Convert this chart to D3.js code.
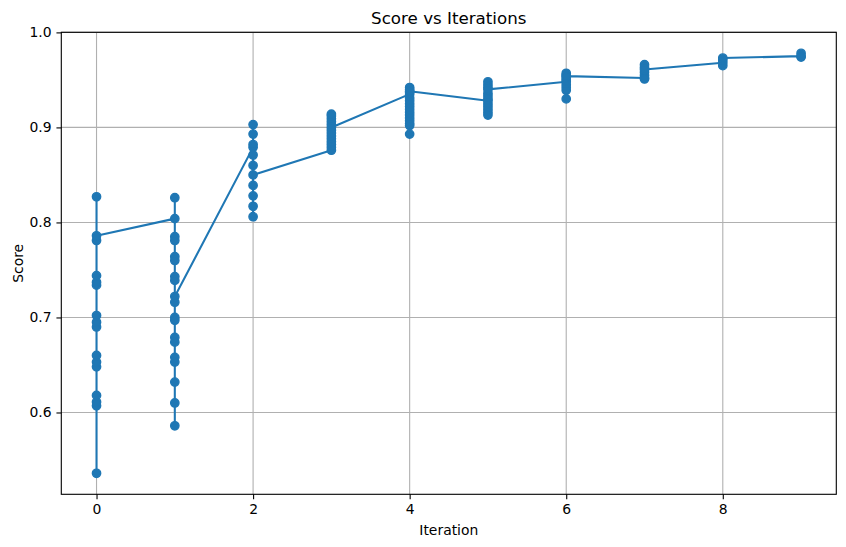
<!DOCTYPE html>
<html>
<head>
<meta charset="utf-8">
<script src="https://cdn.jsdelivr.net/npm/d3@7"></script>
<style>
	body { margin: 0; background: #fff; }
	text { font-family: "DejaVu Sans", sans-serif; fill: #000; }
</style>
</head>
<body>
<svg id="chart" width="846" height="547"></svg>
<script>
// scores in the order they were logged (line follows this order)
var iter0 = [0.827, 0.536, 0.607, 0.611, 0.618, 0.648, 0.653, 0.660, 0.690, 0.695, 0.702, 0.734, 0.737, 0.744, 0.781, 0.786]
var iter1 = [0.804, 0.826, 0.785, 0.781, 0.764, 0.760, 0.743, 0.739, 0.700, 0.697, 0.679, 0.674, 0.658, 0.653, 0.632, 0.610, 0.586, 0.716, 0.722]
var iter2 = [0.879, 0.903, 0.893, 0.882, 0.871, 0.860, 0.839, 0.828, 0.817, 0.806, 0.850]
var iter3 = [0.876, 0.879, 0.882, 0.885, 0.888, 0.891, 0.894, 0.897, 0.903, 0.906, 0.909, 0.912, 0.914, 0.900]
var iter4 = [0.935, 0.942, 0.940, 0.937, 0.931, 0.928, 0.925, 0.922, 0.919, 0.916, 0.913, 0.910, 0.907, 0.904, 0.902, 0.893, 0.938]
var iter5 = [0.928, 0.948, 0.945, 0.942, 0.936, 0.933, 0.930, 0.925, 0.922, 0.919, 0.916, 0.913, 0.940]
var iter6 = [0.948, 0.957, 0.955, 0.952, 0.950, 0.945, 0.942, 0.939, 0.930, 0.954]
var iter7 = [0.952, 0.966, 0.963, 0.958, 0.955, 0.951, 0.961]
var iter8 = [0.968, 0.965, 0.971, 0.973]
var iter9 = [0.975, 0.978, 0.974]

var xTicks = [0, 2, 4, 6, 8]
var yTicks = [0.6, 0.7, 0.8, 0.9, 1.0]

var allIters = [iter0, iter1, iter2, iter3, iter4, iter5, iter6, iter7, iter8, iter9]

// flatten into points
var points = []
allIters.forEach(function(list, i) {
	list.forEach(function(s) {
		points.push({iteration: i, score: s})
	})
})

var svg = d3.select("#chart")
var svgWidth = +svg.attr("width")
var svgHeight = +svg.attr("height")

var padding = {t: 32.3, r: 9.7, b: 52.7, l: 61.3}
var blue = "#1f77b4"

// matplotlib style 5% margins
var xExt = d3.extent(points, function(d) { return d.iteration })
var yExt = d3.extent(points, function(d) { return d.score })
var xm = (xExt[1] - xExt[0]) * 0.05
var ym = (yExt[1] - yExt[0]) * 0.05

var x = d3.scaleLinear()
	.domain([xExt[0] - xm, xExt[1] + xm])
	.range([padding.l, svgWidth - padding.r])

var y = d3.scaleLinear()
	.domain([yExt[0] - ym, yExt[1] + ym])
	.range([svgHeight - padding.b, padding.t])

// grid
svg.append("g")
	.selectAll("line")
	.data(xTicks)
	.enter()
	.append("line")
	.attr("x1", function(d) { return x(d) })
	.attr("x2", function(d) { return x(d) })
	.attr("y1", padding.t)
	.attr("y2", svgHeight - padding.b)
	.attr("stroke", "#b0b0b0")
	.attr("stroke-width", 1.1)

svg.append("g")
	.selectAll("line")
	.data(yTicks)
	.enter()
	.append("line")
	.attr("x1", padding.l)
	.attr("x2", svgWidth - padding.r)
	.attr("y1", function(d) { return y(d) })
	.attr("y2", function(d) { return y(d) })
	.attr("stroke", "#b0b0b0")
	.attr("stroke-width", 1.1)

// line through every logged score
var line = d3.line()
	.x(function(d) { return x(d.iteration) })
	.y(function(d) { return y(d.score) })

svg.append("path")
	.datum(points)
	.attr("d", line)
	.attr("fill", "none")
	.attr("stroke", blue)
	.attr("stroke-width", 2.08)
	.attr("stroke-linejoin", "round")
	.attr("stroke-linecap", "square")

svg.append("g")
	.selectAll("circle")
	.data(points)
	.enter()
	.append("circle")
	.attr("cx", function(d) { return x(d.iteration) })
	.attr("cy", function(d) { return y(d.score) })
	.attr("r", 4.17)
	.attr("fill", blue)
	.attr("stroke", blue)
	.attr("stroke-width", 1.39)

// axes
var xAxis = svg.append("g")
	.attr("transform", "translate(0," + (svgHeight - padding.b) + ")")
	.call(d3.axisBottom(x).tickValues(xTicks).tickFormat(d3.format("d")).tickSize(4.86).tickPadding(4.86))

var yAxis = svg.append("g")
	.attr("transform", "translate(" + padding.l + ",0)")
	.call(d3.axisLeft(y).tickValues(yTicks).tickFormat(d3.format(".1f")).tickSize(4.86).tickPadding(4.86))

;[xAxis, yAxis].forEach(function(a) {
	a.select(".domain").remove()
	a.selectAll(".tick line").attr("stroke", "#000").attr("stroke-width", 1.1)
	a.selectAll(".tick text").style("font-size", "13.9px").style("font-family", "DejaVu Sans")
})

// frame
svg.append("rect")
	.attr("x", padding.l)
	.attr("y", padding.t)
	.attr("width", svgWidth - padding.l - padding.r)
	.attr("height", svgHeight - padding.t - padding.b)
	.attr("fill", "none")
	.attr("stroke", "#000")
	.attr("stroke-width", 1.1)

svg.append("text")
	.attr("x", (padding.l + svgWidth - padding.r) / 2)
	.attr("y", 24)
	.attr("text-anchor", "middle")
	.style("font-size", "16.7px")
	.text("Score vs Iterations")

svg.append("text")
	.attr("x", (padding.l + svgWidth - padding.r) / 2)
	.attr("y", 535)
	.attr("text-anchor", "middle")
	.style("font-size", "13.9px")
	.text("Iteration")

svg.append("text")
	.attr("text-anchor", "middle")
	.style("font-size", "13.9px")
	.attr("transform", "translate(22.5," + ((padding.t + svgHeight - padding.b) / 2) + ")rotate(-90)")
	.text("Score")
</script>
</body>
</html>
